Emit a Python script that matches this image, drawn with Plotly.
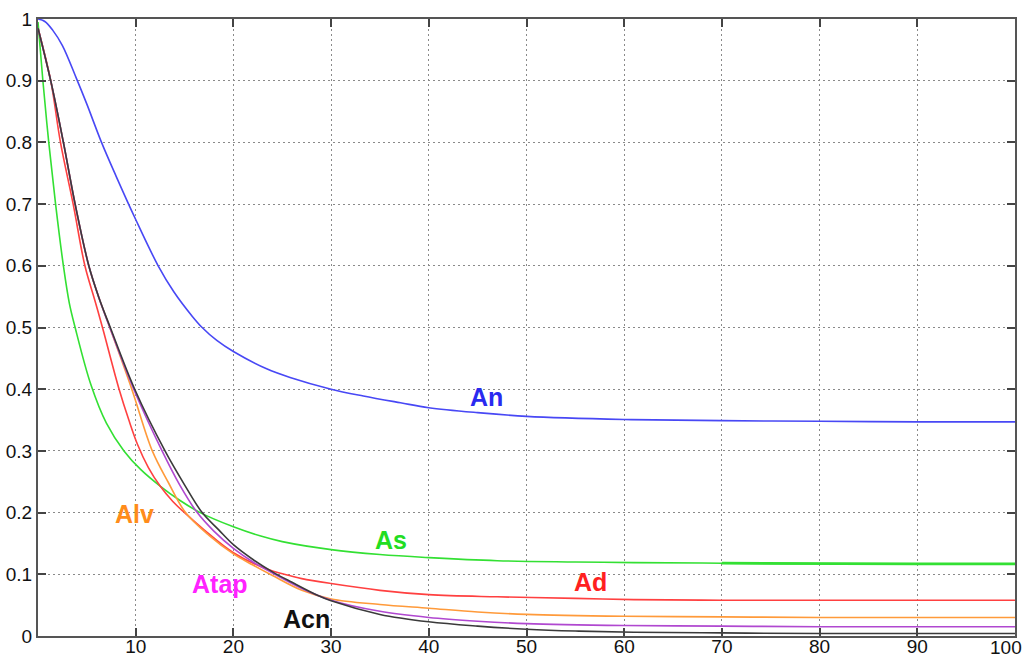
import plotly.graph_objects as go

# ---- data ----
an_x = [0, 0.7, 1.5, 2.5, 3.9, 5, 6.5, 8, 10, 12.3, 13.9, 15.8, 16.8, 18.3, 20, 23.4, 25.8, 30, 33.3, 37.1, 40, 45, 50, 60, 70, 80, 90, 100]
an_y = [1.0, 0.996, 0.982, 0.957, 0.905, 0.862, 0.8, 0.745, 0.675, 0.6, 0.558, 0.518, 0.5, 0.479, 0.461, 0.433, 0.419, 0.4, 0.389, 0.378, 0.37, 0.362, 0.356, 0.351, 0.349, 0.348, 0.347, 0.347]

as_x = [0, 0.5, 1.1, 1.8, 2.6, 3.2, 3.8, 5.4, 7, 8.8, 10.5, 12.5, 14.5, 16.6, 20, 22.8, 25, 30, 35, 40, 47, 55, 61, 70, 80, 90, 100]
as_y = [0.995, 0.9, 0.8, 0.7, 0.6, 0.54, 0.5, 0.408, 0.345, 0.3, 0.27, 0.243, 0.22, 0.2, 0.177, 0.162, 0.153, 0.14, 0.132, 0.127, 0.122, 0.12, 0.119, 0.118, 0.117, 0.117, 0.117]

ad_x = [0, 1.3, 2.3, 3.6, 4.8, 5.8, 6.6, 8.3, 9.3, 10.2, 11.3, 12.5, 13.8, 15.2, 17, 20, 23.5, 25.2, 27, 30, 35, 40, 47, 55, 61, 70, 80, 100]
ad_y = [0.985, 0.9, 0.8, 0.7, 0.6, 0.545, 0.5, 0.4, 0.35, 0.31, 0.273, 0.243, 0.218, 0.197, 0.172, 0.135, 0.108, 0.1, 0.093, 0.085, 0.074, 0.067, 0.0635, 0.061, 0.059, 0.058, 0.058, 0.058]

alv_x = [0, 1.3, 2.6, 3.8, 5.2, 6.2, 7.35, 9.6, 11.7, 13.3, 15.1, 17.5, 20, 22, 24, 27, 30, 35, 40, 45, 50, 60, 70, 80, 100]
alv_y = [0.985, 0.9, 0.8, 0.7, 0.6, 0.55, 0.5, 0.4, 0.3, 0.25, 0.2, 0.163, 0.133, 0.115, 0.098, 0.074, 0.06, 0.051, 0.045, 0.039, 0.035, 0.032, 0.031, 0.03, 0.03]

atap_x = [0, 1.3, 2.6, 3.8, 5.2, 6.2, 7.35, 9.8, 12.7, 14.5, 16.3, 18, 20, 22, 24, 27, 30, 35, 40, 45, 50, 60, 70, 80, 100]
atap_y = [0.985, 0.9, 0.8, 0.7, 0.6, 0.55, 0.5, 0.4, 0.3, 0.245, 0.2, 0.17, 0.142, 0.12, 0.102, 0.077, 0.058, 0.04, 0.03, 0.024, 0.02, 0.017, 0.016, 0.015, 0.015]

acn_x = [0, 1.3, 2.6, 3.8, 5.2, 6.2, 7.4, 9.9, 13, 15, 16.8, 18.5, 20, 22, 24, 26, 28.6, 30, 35, 40, 45, 50, 55, 61, 70, 80, 100]
acn_y = [0.985, 0.9, 0.8, 0.7, 0.6, 0.55, 0.5, 0.4, 0.3, 0.245, 0.2, 0.172, 0.148, 0.124, 0.104, 0.087, 0.066, 0.057, 0.035, 0.023, 0.016, 0.011, 0.008, 0.006, 0.005, 0.004, 0.004]

x_ticks = [10, 20, 30, 40, 50, 60, 70, 80, 90, 100]
x_tick_text = ["10", "20", "30", "40", "50", "60", "70", "80", "90", "100"]
y_ticks = [0, 0.1, 0.2, 0.3, 0.4, 0.5, 0.6, 0.7, 0.8, 0.9, 1]
y_tick_text = ["0", "0.1", "0.2", "0.3", "0.4", "0.5", "0.6", "0.7", "0.8", "0.9", "1"]

series = [
    ("An", an_x, an_y, "#4848f5"),
    ("As", as_x, as_y, "#33e033"),
    ("Ad", ad_x, ad_y, "#ff4040"),
    ("Alv", alv_x, alv_y, "#ff9a3a"),
    ("Atap", atap_x, atap_y, "#b048d0"),
    ("Acn", acn_x, acn_y, "#3a3a3a"),
]

labels = [
    ("An", 45.9, 0.388, "#2a2af0"),
    ("As", 36.1, 0.155, "#22dd22"),
    ("Ad", 56.5, 0.088, "#ff2020"),
    ("Alv", 9.9, 0.197, "#ff8c1a"),
    ("Atap", 18.6, 0.0835, "#ff22ff"),
    ("Acn", 27.5, 0.027, "#111111"),
]

tick_font = dict(family="Liberation Sans, Arial", size=19, color="#111111")

fig = go.Figure()
for name, xs, ys, col in series:
    fig.add_trace(go.Scatter(x=xs, y=ys, mode="lines", name=name,
                             line=dict(color=col, width=1.6, shape="spline", smoothing=1.0),
                             showlegend=False, hoverinfo="skip"))

# the As line is drawn heavier towards the right end in the original
tail = [(x, y) for x, y in zip(as_x, as_y) if x >= 66]
fig.add_trace(go.Scatter(x=[p[0] for p in tail], y=[p[1] for p in tail], mode="lines",
                         line=dict(color="#33e033", width=2.8), showlegend=False, hoverinfo="skip"))

for text, x, y, col in labels:
    fig.add_annotation(x=x, y=y, text=text, showarrow=False, xref="x", yref="y",
                       font=dict(family="Liberation Sans, Arial", size=25, color=col, weight="bold"))

# last x label is pulled in from the right edge in the original: draw it as right-anchored text
fig.add_annotation(x=x_ticks[-1], y=0, xref="x", yref="paper", text=x_tick_text[-1],
                   showarrow=False, xanchor="right", yanchor="middle", xshift=9, yshift=-11,
                   font=tick_font)
x_text = x_tick_text[:-1] + [""]

axis_common = dict(
    showline=True, linecolor="#555555", linewidth=2, mirror="ticks",
    ticks="inside", ticklen=8, tickwidth=2, tickcolor="#444444",
    showgrid=True, gridcolor="#8a8a8a", gridwidth=1, griddash="2px,3px",
    zeroline=False, automargin=False, ticklabeloverflow="allow",
    tickfont=tick_font,
)

fig.update_xaxes(range=[0, 100], tickvals=x_ticks, ticktext=x_text, ticklabelstandoff=-8, **axis_common)
fig.update_yaxes(range=[0, 1], tickvals=y_ticks, ticktext=y_tick_text, **axis_common)

fig.update_layout(
    width=1029, height=658,
    margin=dict(l=38, r=14, t=19, b=22, pad=0),
    paper_bgcolor="white", plot_bgcolor="white",
)

fig.write_html("out.html", config={"displayModeBar": False},
               post_script="document.body.style.margin='0';document.body.style.overflow='hidden';")
